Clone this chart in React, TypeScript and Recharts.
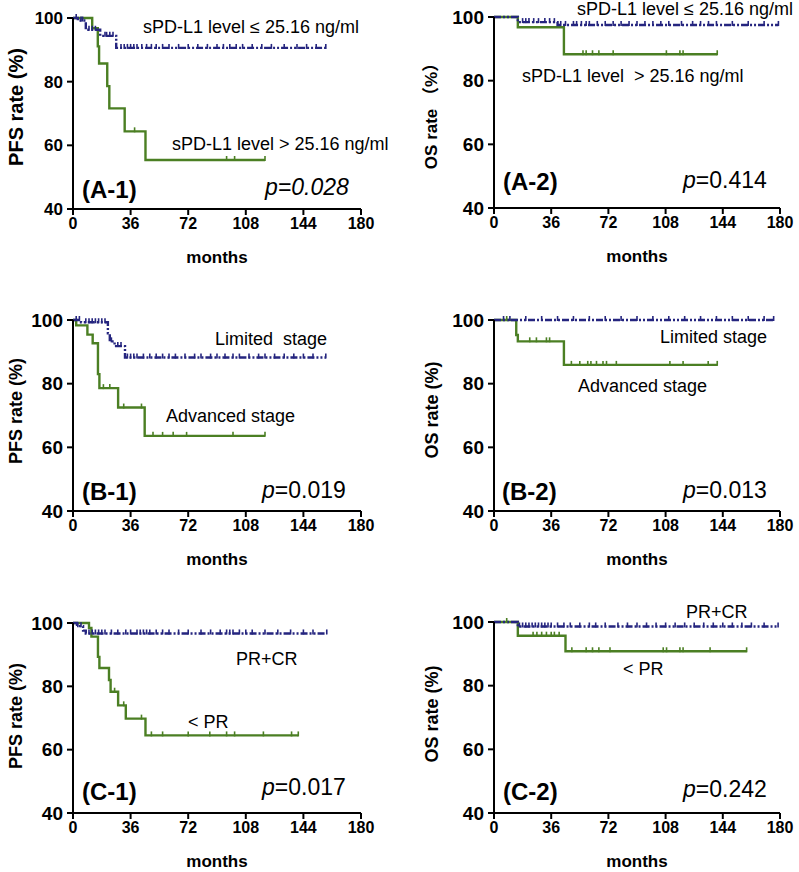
import React from 'react';
import { ComposedChart, Line, XAxis, YAxis } from 'recharts';

const X_TICKS = [0, 36, 72, 108, 144, 180];
const Y_TICKS = [40, 60, 80, 100];

const BLUE = '#25257f';
const GREEN = '#4b7f23';

// ---- A-1 (PFS by sPD-L1) ----
const a1LowEventT = [3, 8, 17, 27];
const a1LowEventS = [99.2, 96.3, 94.4, 90.6];
const a1LowCensorT = [2, 5, 6, 10, 12, 14, 20, 21, 23, 25, 30, 32, 34, 36, 38, 40, 43, 46, 49, 52, 56, 60, 66, 72, 78, 84, 90, 94, 98, 102, 106, 112, 118, 124, 132, 140, 146, 152, 158];
const a1LowEnd = 158;
const a1HighEventT = [12, 15.5, 16.3, 21.4, 22.7, 32.3, 45.3];
const a1HighEventS = [96.8, 91.1, 85.7, 78.6, 71.6, 64.4, 55.4];
const a1HighCensorT = [38.5, 96, 101, 120];
const a1HighEnd = 120;

// ---- A-2 (OS by sPD-L1) ----
const a2LowEventT = [15, 40];
const a2LowEventS = [98.4, 97.5];
const a2LowCensorT = [18, 20, 22, 25, 28, 32, 35, 38, 42, 45, 50, 52, 55, 58, 60, 65, 70, 75, 80, 85, 90, 95, 100, 105, 110, 118, 125, 130, 135, 140, 150, 160, 170, 179];
const a2LowEnd = 179;
const a2HighEventT = [15, 44];
const a2HighEventS = [96.8, 88.3];
const a2HighCensorT = [56, 58, 62, 66, 75, 108.5, 117, 119, 140.5];
const a2HighEnd = 140.5;

// ---- B-1 (PFS by stage) ----
const b1LimEventT = [5, 21.8, 23, 26, 32.5];
const b1LimEventS = [99.3, 95.8, 93.3, 91.8, 88.2];
const b1LimCensorT = [2, 4, 8, 10, 12, 14, 16, 18, 20, 24, 28, 30, 34, 36, 38, 40, 44, 48, 52, 56, 60, 64, 70, 76, 80, 86, 90, 95, 100, 104, 110, 116, 120, 126, 132, 138, 144, 150, 158];
const b1LimEnd = 158;
const b1AdvEventT = [2, 9, 12.3, 15.6, 16.5, 28.2, 44.8];
const b1AdvEventS = [98.3, 95.4, 92.7, 83, 78.6, 72.5, 63.6];
const b1AdvCensorT = [19, 23, 31.7, 42.8, 50, 56, 62.6, 71, 100, 120];
const b1AdvEnd = 120;

// ---- B-2 (OS by stage) ----
const b2LimEventT: number[] = [];
const b2LimEventS: number[] = [];
const b2LimCensorT = [6, 10, 20, 30, 40, 50, 60, 70, 80, 90, 100, 110, 120, 130, 140, 150, 160, 170, 176];
const b2LimEnd = 176;
const b2AdvEventT = [14, 15, 44];
const b2AdvEventS = [95.3, 93.3, 85.9];
const b2AdvCensorT = [8, 22.5, 26.7, 33, 35, 48.7, 54, 59, 61, 64.5, 68.6, 70.8, 77, 110.7, 119, 134.8, 140.5];
const b2AdvEnd = 140.5;

// ---- C-1 (PFS by response) ----
const c1RespEventT = [2.5, 6.3, 8];
const c1RespEventS = [99, 97.6, 96.7];
const c1RespCensorT = [3, 5, 10, 12, 14, 16, 18, 20, 24, 28, 33, 36, 40, 42, 44, 46, 48, 52, 56, 60, 66, 72, 80, 86, 92, 96, 98, 100, 104, 108, 112, 120, 128, 136, 144, 150, 158.6];
const c1RespEnd = 158.6;
const c1NonEventT = [10, 11.5, 15.6, 16.5, 22.5, 23.5, 28.2, 33, 45.3];
const c1NonEventS = [98.4, 95.7, 89.3, 85.8, 82, 78.3, 74, 69.8, 64.5];
const c1NonCensorT = [26, 31.7, 42.8, 49, 56, 72, 85.5, 96, 101, 119, 136.6, 140.8];
const c1NonEnd = 140.8;

// ---- C-2 (OS by response) ----
const c2RespEventT = [15];
const c2RespEventS = [98.6];
const c2RespCensorT = [16, 18, 20, 22, 24, 26, 28, 30, 32, 34, 36, 40, 44, 48, 54, 60, 64, 70, 78, 84, 90, 96, 102, 108, 114, 120, 126, 132, 138, 144, 150, 156, 162, 170, 178.8];
const c2RespEnd = 178.8;
const c2NonEventT = [15, 45];
const c2NonEventS = [95.7, 90.8];
const c2NonCensorT = [8, 24.6, 27, 30, 33, 36, 38, 41, 49, 58, 62, 66, 73, 106.5, 108.6, 117, 119, 136, 159];
const c2NonEnd = 159;

type Pt = { t: number; s: number; c: boolean };

function km(eventT: number[], eventS: number[], censorT: number[], endT: number): Pt[] {
  const valAt = (t: number) => {
    let v = 100;
    eventT.forEach((et, i) => {
      if (et <= t) v = eventS[i];
    });
    return v;
  };
  const pts: Pt[] = [{ t: 0, s: 100, c: false }];
  eventT.forEach((t, i) => pts.push({ t, s: eventS[i], c: false }));
  censorT.forEach((t) => pts.push({ t, s: valAt(t), c: true }));
  if (!censorT.includes(endT)) pts.push({ t: endT, s: valAt(endT), c: true });
  pts.sort((a, b) => a.t - b.t || (a.c ? 1 : 0) - (b.c ? 1 : 0));
  return pts;
}

type Ann = { text: React.ReactNode; x: number; y: number; size: number; bold?: boolean; italic?: boolean };

type PanelCfg = {
  left: number;
  width: number;
  plotLeft: number;
  plotRight: number;
  plotTop: number;
  plotBottom: number;
  yLabel: string;
  yLabelX: number;
  yLabelY: number;
  yLabelSize: number;
  yTickSize: number;
  blue: Pt[];
  green: Pt[];
  anns: Ann[];
};

const FONT = '"Liberation Sans", Arial, Helvetica, "Noto Sans CJK SC", sans-serif';
const NB = '\u00a0';

const pval = (v: string) => (
  <>
    <tspan fontStyle="italic">p</tspan>
    {v}
  </>
);

const PANELS: PanelCfg[] = [
  {
    left: 0, width: 400, plotLeft: 73, plotRight: 361, plotTop: 18, plotBottom: 209,
    yLabel: 'PFS rate (%)', yLabelX: 16, yLabelY: 107, yLabelSize: 20, yTickSize: 17,
    blue: km(a1LowEventT, a1LowEventS, a1LowCensorT, a1LowEnd),
    green: km(a1HighEventT, a1HighEventS, a1HighCensorT, a1HighEnd),
    anns: [
      { text: 'sPD-L1 level ≤ 25.16 ng/ml', x: 143, y: 33, size: 18 },
      { text: 'sPD-L1 level > 25.16 ng/ml', x: 172, y: 150, size: 18 },
      { text: '(A-1)', x: 82, y: 198, size: 24, bold: true },
      { text: 'p=0.028', x: 265, y: 195, size: 23, italic: true },
    ],
  },
  {
    left: 400, width: 399, plotLeft: 494, plotRight: 780, plotTop: 17, plotBottom: 208,
    yLabel: 'OS rate （%）', yLabelX: 431, yLabelY: 112, yLabelSize: 17, yTickSize: 19,
    blue: km(a2LowEventT, a2LowEventS, a2LowCensorT, a2LowEnd),
    green: km(a2HighEventT, a2HighEventS, a2HighCensorT, a2HighEnd),
    anns: [
      { text: 'sPD-L1 level ≤ 25.16 ng/ml', x: 577, y: 15, size: 18 },
      { text: `sPD-L1 level${NB}${NB}>${NB}25.16 ng/ml`, x: 522, y: 82, size: 18 },
      { text: '(A-2)', x: 503, y: 190, size: 24, bold: true },
      { text: pval('=0.414'), x: 683, y: 188, size: 23 },
    ],
  },
  {
    left: 0, width: 400, plotLeft: 73, plotRight: 361, plotTop: 320, plotBottom: 511,
    yLabel: 'PFS rate (%)', yLabelX: 16, yLabelY: 411, yLabelSize: 18, yTickSize: 19,
    blue: km(b1LimEventT, b1LimEventS, b1LimCensorT, b1LimEnd),
    green: km(b1AdvEventT, b1AdvEventS, b1AdvCensorT, b1AdvEnd),
    anns: [
      { text: `Limited${NB}${NB}stage`, x: 215, y: 345, size: 18 },
      { text: 'Advanced stage', x: 166, y: 422, size: 18 },
      { text: '(B-1)', x: 82, y: 500, size: 24, bold: true },
      { text: pval('=0.019'), x: 262, y: 498, size: 23 },
    ],
  },
  {
    left: 400, width: 399, plotLeft: 494, plotRight: 780, plotTop: 320, plotBottom: 511,
    yLabel: 'OS rate (%)', yLabelX: 432, yLabelY: 410, yLabelSize: 18, yTickSize: 19,
    blue: km(b2LimEventT, b2LimEventS, b2LimCensorT, b2LimEnd),
    green: km(b2AdvEventT, b2AdvEventS, b2AdvCensorT, b2AdvEnd),
    anns: [
      { text: 'Limited stage', x: 660, y: 343, size: 18 },
      { text: 'Advanced stage', x: 578, y: 392, size: 18 },
      { text: '(B-2)', x: 502, y: 500, size: 24, bold: true },
      { text: pval('=0.013'), x: 683, y: 498, size: 23 },
    ],
  },
  {
    left: 0, width: 400, plotLeft: 73, plotRight: 361, plotTop: 623, plotBottom: 813,
    yLabel: 'PFS rate (%)', yLabelX: 16, yLabelY: 716, yLabelSize: 18, yTickSize: 19,
    blue: km(c1RespEventT, c1RespEventS, c1RespCensorT, c1RespEnd),
    green: km(c1NonEventT, c1NonEventS, c1NonCensorT, c1NonEnd),
    anns: [
      { text: 'PR+CR', x: 236, y: 665, size: 18 },
      { text: '< PR', x: 188, y: 728, size: 18 },
      { text: '(C-1)', x: 82, y: 800, size: 24, bold: true },
      { text: pval('=0.017'), x: 262, y: 795, size: 23 },
    ],
  },
  {
    left: 400, width: 399, plotLeft: 494, plotRight: 780, plotTop: 622, plotBottom: 813,
    yLabel: 'OS rate (%)', yLabelX: 432, yLabelY: 714, yLabelSize: 18, yTickSize: 19,
    blue: km(c2RespEventT, c2RespEventS, c2RespCensorT, c2RespEnd),
    green: km(c2NonEventT, c2NonEventS, c2NonCensorT, c2NonEnd),
    anns: [
      { text: 'PR+CR', x: 686, y: 618, size: 18 },
      { text: '< PR', x: 623, y: 675, size: 18 },
      { text: '(C-2)', x: 503, y: 800, size: 24, bold: true },
      { text: pval('=0.242'), x: 683, y: 797, size: 23 },
    ],
  },
];

const censorDot = (color: string) => (props: any) => {
  const { cx, cy, payload, index } = props;
  if (!payload || !payload.c || cx == null || cy == null) return <g key={`d-${index}`} />;
  return (
    <line key={`d-${index}`} x1={cx} x2={cx} y1={cy - 4} y2={cy + 1} stroke={color} strokeWidth={1.6} />
  );
};

function Panel({ cfg }: { cfg: PanelCfg }) {
  const top = cfg.plotTop - 20;
  const height = cfg.plotBottom + 70 - top;
  const ox = cfg.left;
  const oy = top;
  const margin = { top: 20, left: 0, right: cfg.left + cfg.width - cfg.plotRight, bottom: 40 };
  return (
    <div style={{ position: 'absolute', left: cfg.left, top }}>
      <ComposedChart width={cfg.width} height={height} margin={margin}>
        <XAxis
          type="number"
          dataKey="t"
          domain={[0, 180]}
          ticks={X_TICKS}
          allowDuplicatedCategory={false}
          height={30}
          axisLine={{ stroke: '#000', strokeWidth: 2 }}
          tickLine={{ stroke: '#000', strokeWidth: 2 }}
          tickSize={6}
          tickMargin={3}
          tick={{ fill: '#000', fontSize: 16, fontWeight: 'bold', fontFamily: FONT }}
          interval={0}
        />
        <YAxis
          type="number"
          dataKey="s"
          domain={[40, 100]}
          ticks={Y_TICKS}
          width={cfg.plotLeft - cfg.left}
          axisLine={{ stroke: '#000', strokeWidth: 2 }}
          tickLine={{ stroke: '#000', strokeWidth: 2 }}
          tickSize={6}
          tickMargin={4}
          tick={{ fill: '#000', fontSize: cfg.yTickSize, fontWeight: 'bold', fontFamily: FONT }}
          interval={0}
        />
        <Line
          data={cfg.green}
          dataKey="s"
          type="stepAfter"
          stroke={GREEN}
          strokeWidth={2.4}
          dot={censorDot(GREEN)}
          activeDot={false}
          isAnimationActive={false}
        />
        <Line
          data={cfg.blue}
          dataKey="s"
          type="stepAfter"
          stroke={BLUE}
          strokeWidth={2.4}
          strokeDasharray="7 2 2 2 2 2"
          dot={censorDot(BLUE)}
          activeDot={false}
          isAnimationActive={false}
        />
        <text
          x={cfg.yLabelX - ox}
          y={cfg.yLabelY - oy}
          transform={`rotate(-90 ${cfg.yLabelX - ox} ${cfg.yLabelY - oy})`}
          textAnchor="middle"
          dominantBaseline="central"
          fontFamily={FONT}
          fontWeight="bold"
          fontSize={cfg.yLabelSize}
          fill="#000"
        >
          {cfg.yLabel}
        </text>
        <text
          x={(cfg.plotLeft + cfg.plotRight) / 2 - ox}
          y={cfg.plotBottom + 54 - oy}
          textAnchor="middle"
          fontFamily={FONT}
          fontWeight="bold"
          fontSize={17}
          fill="#000"
        >
          months
        </text>
        {cfg.anns.map((a, i) => (
          <text
            key={i}
            x={a.x - ox}
            y={a.y - oy}
            fontFamily={FONT}
            fontSize={a.size}
            fontWeight={a.bold ? 'bold' : 'normal'}
            fontStyle={a.italic ? 'italic' : 'normal'}
            fill="#000"
          >
            {a.text}
          </text>
        ))}
      </ComposedChart>
    </div>
  );
}

export default function App() {
  return (
    <div
      style={{
        position: 'absolute',
        left: 0,
        top: 0,
        width: 799,
        height: 872,
        background: '#fff',
        overflow: 'hidden',
      }}
    >
      {PANELS.map((p, i) => (
        <Panel key={i} cfg={p} />
      ))}
    </div>
  );
}
